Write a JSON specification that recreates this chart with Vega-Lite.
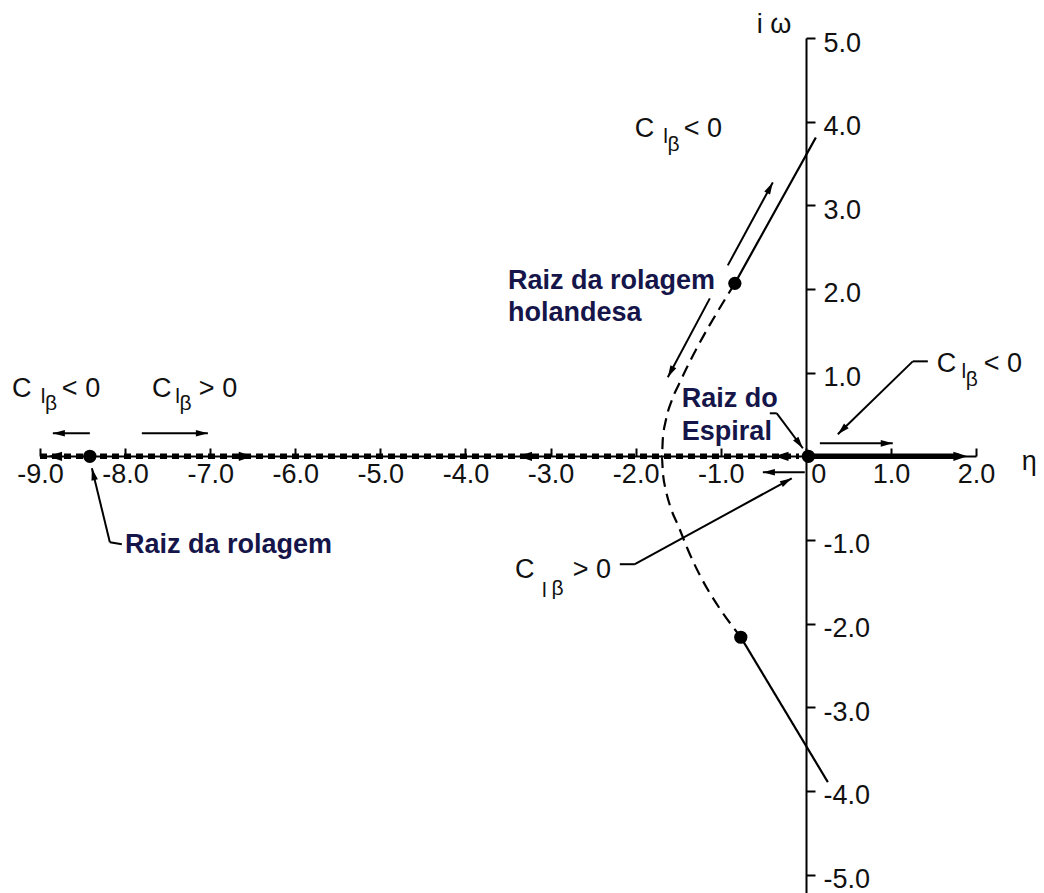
{
  "$schema": "https://vega.github.io/schema/vega-lite/v6.json",
  "width": 936,
  "height": 855,
  "autosize": {"type": "none"},
  "padding": {"left": 40, "top": 38, "right": 68, "bottom": 0},
  "background": "white",
  "config": {"view": {"stroke": null}, "font": "Liberation Sans"},
  "resolve": {"scale": {"strokeDash": "independent"}},
  "datasets": {
    "realAxis": [
      {"seg": "a", "branch": "Clβ > 0", "x": -9.0, "y": 0},
      {"seg": "a", "branch": "Clβ > 0", "x": -0.08, "y": 0},
      {"seg": "b", "branch": "Clβ < 0", "x": 0.0, "y": 0},
      {"seg": "b", "branch": "Clβ < 0", "x": 1.8, "y": 0}
    ],
    "dutch": [
      {"seg": "upper", "branch": "Clβ < 0", "i": 0, "x": -0.834, "y": 2.067},
      {"seg": "upper", "branch": "Clβ < 0", "i": 1, "x": 0.118, "y": 3.811},
      {"seg": "lower", "branch": "Clβ < 0", "i": 0, "x": -0.764, "y": -2.163},
      {"seg": "lower", "branch": "Clβ < 0", "i": 1, "x": 0.259, "y": -3.895},
      {"seg": "curve", "branch": "Clβ > 0", "i": 0, "x": -0.834, "y": 2.067},
      {"seg": "curve", "branch": "Clβ > 0", "i": 1, "x": -1.469, "y": 0.908},
      {"seg": "curve", "branch": "Clβ > 0", "i": 2, "x": -1.575, "y": 0.669},
      {"seg": "curve", "branch": "Clβ > 0", "i": 3, "x": -1.645, "y": 0.43},
      {"seg": "curve", "branch": "Clβ > 0", "i": 4, "x": -1.68, "y": 0.215},
      {"seg": "curve", "branch": "Clβ > 0", "i": 5, "x": -1.692, "y": 0.0},
      {"seg": "curve", "branch": "Clβ > 0", "i": 6, "x": -1.68, "y": -0.191},
      {"seg": "curve", "branch": "Clβ > 0", "i": 7, "x": -1.645, "y": -0.406},
      {"seg": "curve", "branch": "Clβ > 0", "i": 8, "x": -1.586, "y": -0.621},
      {"seg": "curve", "branch": "Clβ > 0", "i": 9, "x": -1.492, "y": -0.848},
      {"seg": "curve", "branch": "Clβ > 0", "i": 10, "x": -1.398, "y": -1.087},
      {"seg": "curve", "branch": "Clβ > 0", "i": 11, "x": -0.764, "y": -2.163}
    ],
    "arrows": [
      {"x": -0.388, "y": 3.274, "x2": -0.917, "y2": 2.282, "head": true},
      {"x": -1.622, "y": 0.944, "x2": -1.128, "y2": 1.888, "head": true},
      {"x": -8.849, "y": 0.275, "x2": -8.414, "y2": 0.275, "head": true},
      {"x": -7.027, "y": 0.275, "x2": -7.803, "y2": 0.275, "head": true},
      {"x": 1.022, "y": 0.155, "x2": 0.165, "y2": 0.155, "head": true},
      {"x": -0.505, "y": -0.191, "x2": -0.012, "y2": -0.191, "head": true},
      {"x": -8.038, "y": -1.051, "x2": -8.179, "y2": -1.027, "head": false},
      {"x": -8.39, "y": -0.143, "x2": -8.179, "y2": -1.027, "head": true},
      {"x": -0.423, "y": 0.514, "x2": -0.341, "y2": 0.514, "head": false},
      {"x": -0.035, "y": 0.096, "x2": -0.341, "y2": 0.514, "head": true},
      {"x": 1.434, "y": 1.135, "x2": 1.257, "y2": 1.135, "head": false},
      {"x": 0.376, "y": 0.263, "x2": 1.257, "y2": 1.135, "head": true},
      {"x": -2.186, "y": -1.29, "x2": -2.009, "y2": -1.29, "head": false},
      {"x": -0.165, "y": -0.263, "x2": -2.009, "y2": -1.29, "head": true}
    ],
    "axisHeads": [
      {"x": -8.907, "y": 0, "dir": "left"},
      {"x": -6.498, "y": 0, "dir": "right"},
      {"x": -3.384, "y": 0, "dir": "left"},
      {"x": -0.37, "y": 0, "dir": "left"},
      {"x": 1.9, "y": 0, "dir": "right"}
    ],
    "roots": [
      {"root": "rolagem", "x": -8.414, "y": 0},
      {"root": "espiral", "x": 0.03, "y": 0},
      {"root": "holandesa", "x": -0.834, "y": 2.067},
      {"root": "holandesa", "x": -0.764, "y": -2.163}
    ],
    "clabels": [
      {"x": -9.33, "y": 0.705, "part": "main", "text": "C"},
      {"x": -8.99, "y": 0.633, "part": "sub", "text": "l"},
      {"x": -8.94, "y": 0.55, "part": "sub", "text": "β"},
      {"x": -8.743, "y": 0.705, "part": "main", "text": "< 0"},
      {"x": -7.685, "y": 0.705, "part": "main", "text": "C"},
      {"x": -7.41, "y": 0.633, "part": "sub", "text": "l"},
      {"x": -7.36, "y": 0.55, "part": "sub", "text": "β"},
      {"x": -7.133, "y": 0.705, "part": "main", "text": "> 0"},
      {"x": -2.009, "y": 3.811, "part": "main", "text": "C"},
      {"x": -1.675, "y": 3.74, "part": "sub", "text": "l"},
      {"x": -1.625, "y": 3.65, "part": "sub", "text": "β"},
      {"x": -1.434, "y": 3.811, "part": "main", "text": "< 0"},
      {"x": 1.539, "y": 1.004, "part": "main", "text": "C"},
      {"x": 1.83, "y": 0.932, "part": "sub", "text": "l"},
      {"x": 1.88, "y": 0.84, "part": "sub", "text": "β"},
      {"x": 2.092, "y": 1.004, "part": "main", "text": "< 0"},
      {"x": -3.419, "y": -1.458, "part": "main", "text": "C"},
      {"x": -3.1, "y": -1.685, "part": "sub", "text": "l"},
      {"x": -2.99, "y": -1.66, "part": "sub", "text": "β"},
      {"x": -2.738, "y": -1.458, "part": "main", "text": "> 0"}
    ],
    "notes": [
      {"x": -3.5, "y": 1.995, "text": "Raiz da rolagem"},
      {"x": -3.5, "y": 1.613, "text": "holandesa"},
      {"x": -1.457, "y": 0.585, "text": "Raiz do"},
      {"x": -1.457, "y": 0.191, "text": "Espiral"},
      {"x": -8.002, "y": -1.159, "text": "Raiz da rolagem"}
    ],
    "titles": [
      {"x": -0.576, "y": 5.054, "text": "i  ω"},
      {"x": 2.538, "y": -0.167, "text": "η"}
    ]
  },
  "encoding": {
    "x": {
      "field": "x",
      "type": "quantitative",
      "scale": {"domain": [-9, 2], "nice": false, "zero": false},
      "axis": {
        "orient": "bottom",
        "offset": -437,
        "title": null,
        "values": [-9, -8, -7, -6, -5, -4, -3, -2, -1, 0, 1, 2],
        "grid": false,
        "domain": true,
        "domainColor": "black",
        "domainWidth": 2,
        "ticks": true,
        "tickSize": -8,
        "tickWidth": 2,
        "tickColor": "black",
        "labelPadding": 13,
        "labelFont": "Liberation Sans",
        "labelFontSize": 27,
        "labelColor": "#111111",
        "labelBaseline": "top",
        "labelFlush": false,
        "labelOverlap": false,
        "labelExpr": "datum.value == 0 ? '0' : (datum.value < 0 ? '-' : '') + format(abs(datum.value), '.1f')",
        "labelAlign": {"condition": {"test": "datum.value == 0", "value": "left"}, "value": "center"},
        "labelOffset": {"condition": {"test": "datum.value == 0", "value": 5}, "value": 0}
      }
    },
    "y": {
      "field": "y",
      "type": "quantitative",
      "scale": {"domain": [-5.22, 5.0], "nice": false, "zero": false},
      "axis": {
        "orient": "right",
        "offset": -170,
        "title": null,
        "values": [-5, -4, -3, -2, -1, 1, 2, 3, 4, 5],
        "grid": false,
        "domain": true,
        "domainColor": "black",
        "domainWidth": 2,
        "ticks": true,
        "tickSize": 9,
        "tickWidth": 2,
        "tickColor": "black",
        "labelPadding": 8,
        "labelFont": "Liberation Sans",
        "labelFontSize": 27,
        "labelColor": "#111111",
        "labelBaseline": "middle",
        "labelOffset": 5,
        "labelFlush": false,
        "labelOverlap": false,
        "labelExpr": "(datum.value < 0 ? '-' : '') + format(abs(datum.value), '.1f')"
      }
    }
  },
  "layer": [
    {
      "data": {"name": "realAxis"},
      "mark": {"type": "line", "color": "black", "strokeWidth": 5.5, "strokeCap": "butt"},
      "encoding": {
        "detail": {"field": "seg", "type": "nominal"},
        "strokeDash": {"field": "branch", "type": "nominal", "scale": {"domain": ["Clβ < 0", "Clβ > 0"], "range": [[1, 0], [7, 5]]}, "legend": null}
      }
    },
    {
      "data": {"name": "dutch"},
      "mark": {"type": "line", "color": "black", "strokeWidth": 2.2, "interpolate": "monotone"},
      "encoding": {
        "detail": {"field": "seg", "type": "nominal"},
        "order": {"field": "i", "type": "quantitative"},
        "strokeDash": {"field": "branch", "type": "nominal", "scale": {"domain": ["Clβ < 0", "Clβ > 0"], "range": [[1, 0], [12, 7]]}, "legend": null}
      }
    },
    {
      "data": {"name": "arrows"},
      "mark": {"type": "rule", "color": "black", "strokeWidth": 2},
      "encoding": {
        "x2": {"field": "x2"},
        "y2": {"field": "y2"}
      }
    },
    {
      "data": {"name": "arrows"},
      "transform": [
        {"filter": "datum.head"},
        {"calculate": "90 - atan2(datum.y - datum.y2, datum.x - datum.x2) * 180 / PI", "as": "ang"}
      ],
      "mark": {"type": "point", "shape": "M0,0L0.55,2L-0.55,2Z", "filled": true, "opacity": 1, "color": "black", "size": 144, "strokeWidth": 0},
      "encoding": {
        "angle": {"field": "ang", "type": "quantitative", "scale": null}
      }
    },
    {
      "data": {"name": "axisHeads"},
      "mark": {"type": "point", "filled": true, "opacity": 1, "color": "black", "size": 200, "strokeWidth": 0},
      "encoding": {
        "shape": {"field": "dir", "type": "nominal", "scale": {"domain": ["left", "right"], "range": ["M0,0L2,-0.65L2,0.65Z", "M0,0L-2,-0.65L-2,0.65Z"]}, "legend": null}
      }
    },
    {
      "data": {"name": "roots"},
      "mark": {"type": "point", "shape": "circle", "filled": true, "opacity": 1, "color": "black", "size": 175}
    },
    {
      "data": {"name": "clabels"},
      "mark": {"type": "text", "align": "left", "baseline": "alphabetic", "font": "Liberation Sans", "color": "#111111"},
      "encoding": {
        "text": {"field": "text"},
        "size": {"field": "part", "type": "ordinal", "scale": {"domain": ["main", "sub"], "range": [27, 21]}, "legend": null}
      }
    },
    {
      "data": {"name": "notes"},
      "mark": {"type": "text", "align": "left", "baseline": "alphabetic", "font": "Liberation Sans", "fontWeight": "bold", "fontSize": 27, "color": "#15154a"},
      "encoding": {
        "text": {"field": "text"}
      }
    },
    {
      "data": {"name": "titles"},
      "mark": {"type": "text", "align": "left", "baseline": "alphabetic", "font": "Liberation Sans", "fontSize": 27, "color": "#111111"},
      "encoding": {
        "text": {"field": "text"}
      }
    }
  ]
}
